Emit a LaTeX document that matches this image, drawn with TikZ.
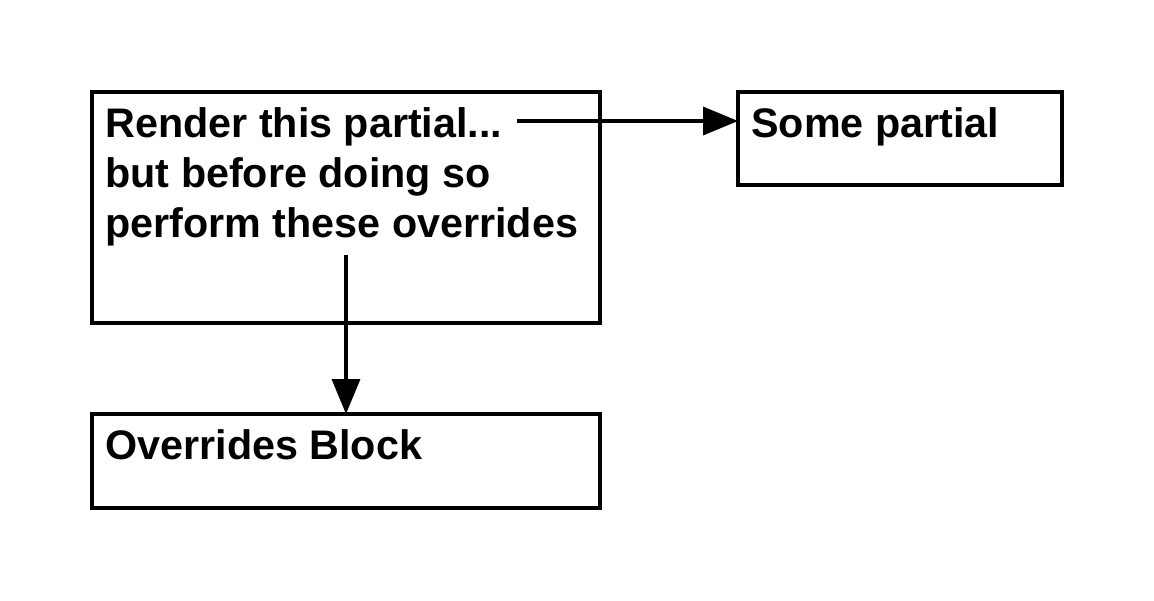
\documentclass[tikz,border=0pt]{standalone}
\usepackage{fontspec}
\setmainfont{Liberation Sans}
\usetikzlibrary{arrows.meta, positioning}

\begin{document}
\begin{tikzpicture}[
x=0.02cm, y=-0.02cm,
   box/.style = {draw, line width=2.3pt,
                 minimum width=#1, inner sep=0pt, outer sep=0pt},
   txt/.style = {font=\bfseries\fontsize{23.5}{28.45}\selectfont,
                 align=left, inner sep=0pt, anchor=north west},
   arr/.style = {line width=2pt,
                 -{Triangle[length=7mm,width=5.6mm]}}
                        ]
\useasboundingbox (0,0) rectangle (1154,600);
    % boxes
\node (render)   [box=10.16cm, minimum height=4.62cm] at (346,207.5) {};
\node (partial)  [box=6.48cm,  minimum height=1.86cm] at (900,138.5) {};
\node (override) [box=10.16cm, minimum height=1.88cm] at (346,461)   {};
    % texts
\node (t1) [txt] at ([shift={(13,15.5)}]render.north west)
           {Render this partial...\\but before doing so\\perform these overrides};
\node (t2) [txt] at ([shift={(13,15.5)}]partial.north west)   {Some partial};
\node (t3) [txt] at ([shift={(13,15.5)}]override.north west)  {Overrides Block};
    % arrows
\coordinate (out1) at (517,121);
\coordinate (out2) at (346,255);
\draw[arr] (out1) -- (partial.west |- out1);
\draw[arr] (out2) -- (override.north);
\end{tikzpicture}
\end{document}
